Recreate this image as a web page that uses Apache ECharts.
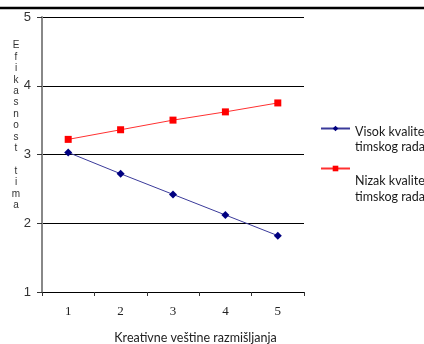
<!DOCTYPE html>
<html>
<head>
<meta charset="utf-8">
<script src="https://cdn.jsdelivr.net/npm/echarts@6/dist/echarts.min.js"></script>
<style>html,body{margin:0;padding:0;background:#fff;}#c{width:424px;height:344px;}</style>
</head>
<body>
<div id="c"></div>
<script>
const categories = ['1', '2', '3', '4', '5'];
const visokKvalitet = [3.03, 2.72, 2.42, 2.12, 1.82];
const nizakKvalitet = [3.22, 3.36, 3.50, 3.62, 3.75];
const seriesNames = ['Visok kvalitet timskog rada', 'Nizak kvalitet timskog rada'];
const legendLines = [['Visok kvalitet', 'timskog rada'], ['Nizak kvalitet', 'timskog rada']];
const yAxisTitle = 'Efikasnost tima';
const xAxisTitle = 'Kreativne veštine razmišljanja';

const chart = echarts.init(document.getElementById('c'), null, {renderer: 'canvas'});
function legendCfg(idx, top, spacer) {
  return {
    data: [seriesNames[idx]], left: 320, top: top, padding: 0, itemWidth: 29, itemHeight: 7,
    formatter: () => '{s| }\n{a|' + legendLines[idx][0] + '}\n{a|' + legendLines[idx][1] + '}',
    textStyle: {
      rich: {
        s: {fontSize: 4, lineHeight: spacer},
        a: {fontFamily: 'Lato', fontSize: 12.5, color: '#1a1a1a', lineHeight: 15.5}
      }
    }
  };
}
chart.setOption({
  animation: false,
  grid: {left: 42, top: 17, width: 262, height: 275, outerBoundsMode: 'none', containLabel: false},
  legend: [legendCfg(0, 111, 22), legendCfg(1, 151, 41)],
  xAxis: {
    type: 'category', data: categories, boundaryGap: true,
    name: xAxisTitle, nameLocation: 'middle', nameGap: 39,
    nameTextStyle: {fontFamily: 'Lato', fontSize: 12.5, color: '#222', padding: [0, 0, 0, 45]},
    axisLine: {lineStyle: {color: '#000', width: 1}},
    axisTick: {show: true, length: 4, lineStyle: {color: '#333'}},
    axisLabel: {fontFamily: 'Liberation Serif', fontSize: 13, color: '#222', margin: 13}
  },
  yAxis: {
    type: 'value', min: 1, max: 5, interval: 1,
    axisLine: {show: true, lineStyle: {color: '#888', width: 2}},
    axisTick: {show: true, length: 5, lineStyle: {color: '#333'}},
    axisLabel: {fontFamily: 'Liberation Sans', fontSize: 13, color: '#333', margin: 11},
    splitLine: {show: true, lineStyle: {color: '#000', width: 1}}
  },
  graphic: [
    {type: 'line', shape: {x1: 0, y1: 8, x2: 424, y2: 8}, style: {stroke: '#000', lineWidth: 2.5}},
    {type: 'text', x: 16, y: 40, style: {
      text: yAxisTitle.split('').join('\n'), fontFamily: 'Liberation Sans', fontSize: 10,
      lineHeight: 11.4, fill: '#333', align: 'center', verticalAlign: 'top'}}
  ],
  series: [
    {name: seriesNames[0], type: 'line', data: visokKvalitet, symbol: 'diamond', symbolSize: 8,
     itemStyle: {color: '#000080'}, lineStyle: {color: '#3a3a9a', width: 1}},
    {name: seriesNames[1], type: 'line', data: nizakKvalitet, symbol: 'rect', symbolSize: 7,
     itemStyle: {color: '#ff0000'}, lineStyle: {color: '#ff3030', width: 1}}
  ]
});
</script>
</body>
</html>
